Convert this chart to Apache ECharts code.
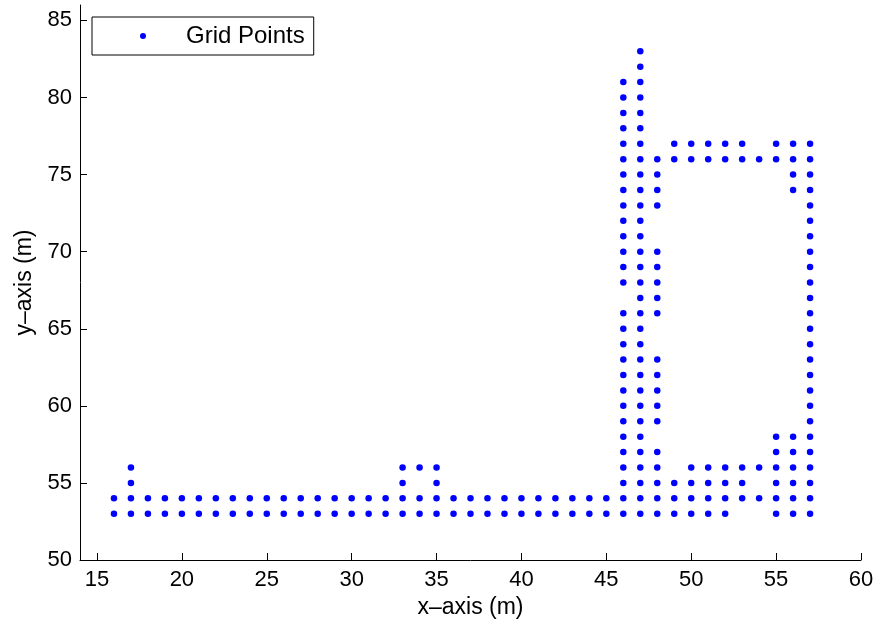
<!DOCTYPE html>
<html>
<head>
<meta charset="utf-8">
<script src="https://cdn.jsdelivr.net/npm/echarts@6/dist/echarts.min.js"></script>
<style>
html,body{margin:0;padding:0;background:#fff;}
#chart{width:879px;height:625px;}
</style>
</head>
<body>
<div id="chart"></div>
<script>
// Grid point rows: y value and the x values present in that row
const rowY = [53, 54, 55, 56, 57, 58, 59, 60, 61, 62, 63, 64, 65, 66, 67, 68, 69, 70, 71, 72, 73, 74, 75, 76, 77, 78, 79, 80, 81, 82, 83];
const rowX = [
  [16,17,18,19,20,21,22,23,24,25,26,27,28,29,30,31,32,33,34,35,36,37,38,39,40,41,42,43,44,45,46,47,48,49,50,51,52,55,56,57],
  [16,17,18,19,20,21,22,23,24,25,26,27,28,29,30,31,32,33,34,35,36,37,38,39,40,41,42,43,44,45,46,47,48,49,50,51,52,53,54,55,56,57],
  [17,33,35,46,47,48,49,50,51,52,53,55,56,57],
  [17,33,34,35,46,47,48,50,51,52,53,54,55,56,57],
  [46,47,48,55,56,57],
  [46,47,55,56,57],
  [46,47,48,57],
  [46,47,48,57],
  [46,47,48,57],
  [46,47,48,57],
  [46,47,48,57],
  [46,47,57],
  [46,47,57],
  [46,47,48,57],
  [47,48,57],
  [46,47,48,57],
  [46,47,48,57],
  [46,47,48,57],
  [46,47,57],
  [46,47,57],
  [46,47,48,57],
  [46,47,48,56,57],
  [46,47,48,56,57],
  [46,47,48,49,50,51,52,53,54,55,56,57],
  [46,47,49,50,51,52,53,55,56,57],
  [46,47],
  [46,47],
  [46,47],
  [46,47],
  [47],
  [47]
];
const xTicks = [15, 20, 25, 30, 35, 40, 45, 50, 55, 60];
const yTicks = [50, 55, 60, 65, 70, 75, 80, 85];
const seriesName = 'Grid Points';

const points = [];
rowY.forEach((y, i) => rowX[i].forEach(x => points.push([x, y])));

const FONT = 'Liberation Sans, Arial, Helvetica, sans-serif';
const chart = echarts.init(document.getElementById('chart'), null, {renderer: 'canvas'});
chart.setOption({
  animation: false,
  backgroundColor: '#ffffff',
  grid: {left: 80, right: 18, top: 5, bottom: 65, containLabel: false},
  legend: {
    left: 92, top: 17,
    orient: 'vertical',
    backgroundColor: '#ffffff',
    borderColor: '#000000', borderWidth: 1, borderRadius: 0,
    padding: [6, 9, 6, 48],
    itemWidth: 76, itemHeight: 6,
    textStyle: {fontFamily: FONT, fontSize: 24, color: '#000', lineHeight: 26},
    data: [{name: seriesName, icon: 'circle', itemStyle: {opacity: 1, color: '#0000ff'}}]
  },
  xAxis: {
    type: 'value', min: 14, max: 60,
    name: 'x\u2013axis (m)', nameLocation: 'middle', nameGap: 31,
    nameTextStyle: {fontFamily: FONT, fontSize: 23, color: '#000'},
    axisLine: {onZero: false, lineStyle: {color: '#000', width: 1}},
    axisTick: {show: true, inside: true, length: 7, customValues: xTicks, lineStyle: {color: '#000'}},
    axisLabel: {customValues: xTicks, margin: 9, fontFamily: FONT, fontSize: 22, color: '#000'},
    splitLine: {show: false}
  },
  yAxis: {
    type: 'value', min: 50, max: 86,
    name: 'y\u2013axis (m)', nameLocation: 'middle', nameGap: 43, nameRotate: 90,
    nameTextStyle: {fontFamily: FONT, fontSize: 23, color: '#000'},
    axisLine: {onZero: false, lineStyle: {color: '#000', width: 1}},
    axisTick: {show: true, inside: true, length: 7, customValues: yTicks, lineStyle: {color: '#000'}},
    axisLabel: {customValues: yTicks, margin: 8, fontFamily: FONT, fontSize: 22, color: '#000'},
    splitLine: {show: false}
  },
  series: [{
    name: seriesName,
    type: 'scatter',
    symbol: 'circle',
    symbolSize: 6.5,
    itemStyle: {color: '#0000ff', opacity: 1},
    data: points
  }]
});
</script>
</body>
</html>
